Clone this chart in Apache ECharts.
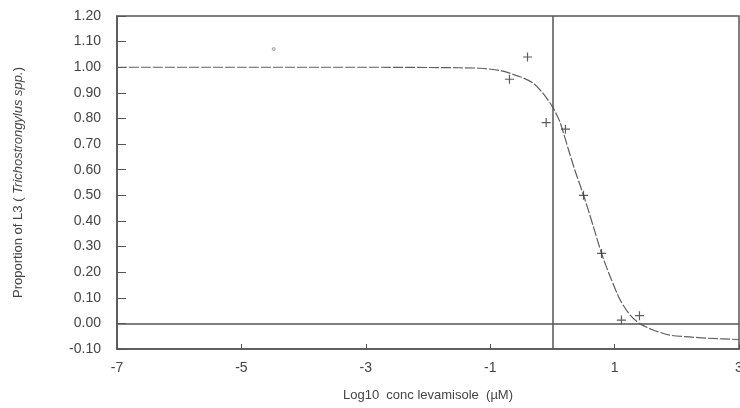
<!DOCTYPE html>
<html>
<head>
<meta charset="utf-8">
<script src="https://cdn.jsdelivr.net/npm/echarts@6/dist/echarts.min.js"></script>
<style>
  html, body { margin: 0; padding: 0; background: #fff; }
  #chart { width: 740px; height: 408px; }
</style>
</head>
<body>
<div id="chart"></div>
<script>
// Observed larval migration proportions at each log10 concentration
const obsX = [-0.69, -0.40, -0.10, 0.21, 0.50, 0.79, 1.11, 1.40];
const obsY = [0.953, 1.040, 0.784, 0.758, 0.500, 0.273, 0.013, 0.030];

// Isolated low-dose reading
const lowX = [-4.48];
const lowY = [1.071];

// Fitted dose-response curve, sampled along log10 concentration
const fitX = [-7, -5, -3, -2, -1.5, -1.16, -0.84, -0.52, -0.31, -0.15, 0.0, 0.12, 0.26, 0.36, 0.50, 0.66, 0.79, 0.93, 1.09, 1.25, 1.40, 1.62, 1.89, 2.2, 2.5, 3.0];
const fitY = [1.000, 1.000, 1.000, 0.999, 0.998, 0.996, 0.987, 0.963, 0.938, 0.898, 0.846, 0.787, 0.677, 0.599, 0.501, 0.377, 0.273, 0.182, 0.091, 0.032, 0.000, -0.026, -0.046, -0.053, -0.058, -0.063];

// Axis ticks
const xTicks = [-7, -5, -3, -1, 1, 3];
const yTickLabels = ['-0.10', '0.00', '0.10', '0.20', '0.30', '0.40', '0.50', '0.60', '0.70', '0.80', '0.90', '1.00', '1.10', '1.20'];

const zip = (a, b) => a.map((v, i) => [v, b[i]]);
const axisColor = '#555';
const font = 'Liberation Sans, Arial, sans-serif';

const chart = echarts.init(document.getElementById('chart'), null, { renderer: 'canvas' });
chart.setOption({
  animation: false,
  backgroundColor: '#fff',
  grid: {
    left: 117, right: 1, top: 16, bottom: 59,
    containLabel: false, outerBoundsMode: 'none',
    show: true, borderColor: axisColor, borderWidth: 1.5, backgroundColor: 'transparent'
  },
  xAxis: {
    type: 'value', min: -7, max: 3, interval: 2,
    name: 'Log10  conc levamisole  (µM)',
    nameLocation: 'middle', nameGap: 40,
    nameTextStyle: { fontFamily: font, fontSize: 13, color: '#444' },
    axisLine: { show: true, onZero: false, lineStyle: { color: axisColor, width: 1.5 } },
    axisTick: { show: true, inside: true, length: 5, lineStyle: { color: axisColor } },
    axisLabel: { fontFamily: font, fontSize: 14, color: '#444', margin: 12,
      formatter: v => xTicks.includes(v) ? String(v) : '' },
    splitLine: { show: false }
  },
  yAxis: {
    type: 'value', min: -0.1, max: 1.2, interval: 0.1,
    name: 'Proportion of L3 ( {i|Trichostrongylus spp.})',
    nameLocation: 'middle', nameGap: 92, nameRotate: 90,
    nameTextStyle: { fontFamily: font, fontSize: 13, color: '#444',
      rich: { i: { fontFamily: font, fontSize: 13, color: '#444', fontStyle: 'italic' } } },
    axisLine: { show: true, onZero: false, lineStyle: { color: axisColor, width: 1.5 } },
    axisTick: { show: true, inside: true, length: 9, lineStyle: { color: axisColor } },
    axisLabel: { fontFamily: font, fontSize: 14, color: '#444', margin: 16,
      formatter: v => yTickLabels[Math.round((v + 0.1) * 10)] },
    splitLine: { show: false }
  },
  series: [
    {
      name: 'fit', type: 'line', data: zip(fitX, fitY),
      showSymbol: false, symbol: 'none', smooth: 0.25,
      lineStyle: { color: '#5f5f5f', width: 1.2, type: [10, 2] },
      markLine: {
        silent: true, symbol: 'none', label: { show: false },
        lineStyle: { color: axisColor, width: 1.5, type: 'solid' },
        data: [{ xAxis: 0 }, { yAxis: 0 }]
      },
      z: 3
    },
    {
      name: 'observed', type: 'scatter', data: zip(obsX, obsY),
      symbol: 'path://M0,5L10,5M5,0L5,10', symbolSize: 9,
      itemStyle: { color: 'none', borderColor: '#333', borderWidth: 1.2 },
      z: 4
    },
    {
      name: 'low', type: 'scatter', data: zip(lowX, lowY),
      symbol: 'circle', symbolSize: 3,
      itemStyle: { color: '#ddd', borderColor: '#777', borderWidth: 0.8 },
      z: 4
    }
  ]
});
</script>
</body>
</html>
